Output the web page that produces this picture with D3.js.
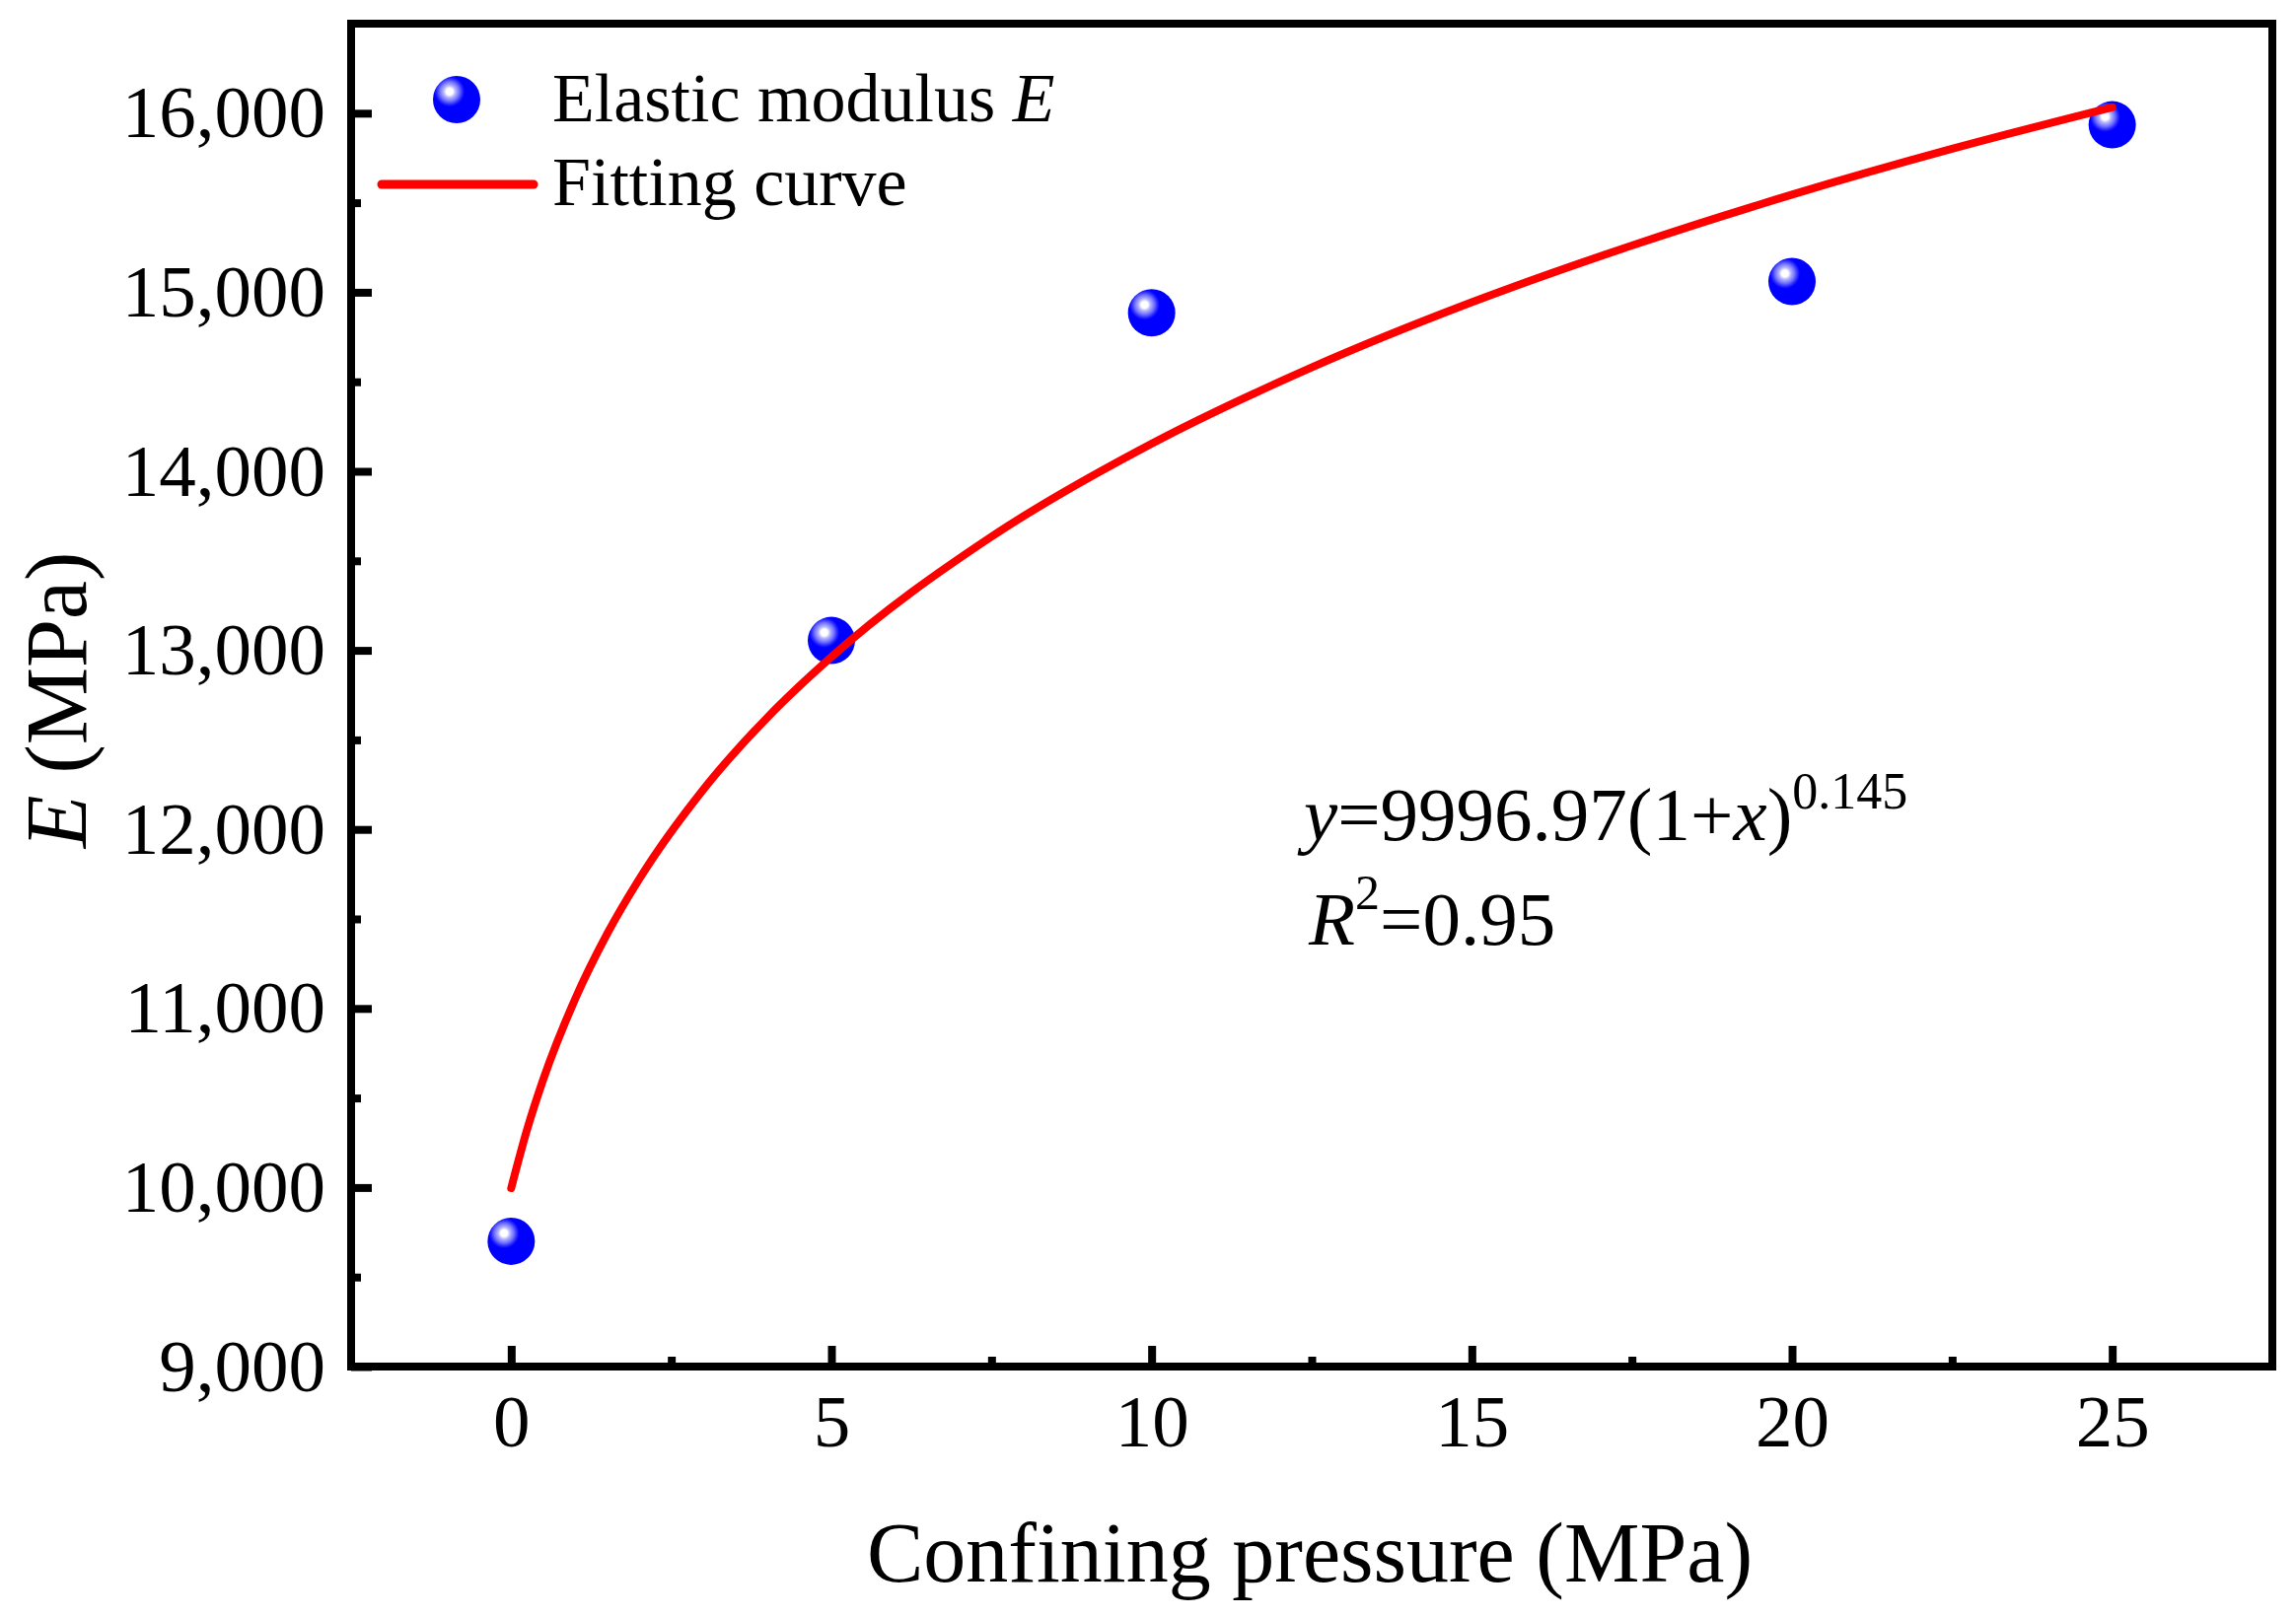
<!DOCTYPE html>
<html>
<head>
<meta charset="utf-8">
<script src="https://cdn.jsdelivr.net/npm/d3@7"></script>
<style>
  body { margin: 0; background: #fff; }
  svg text { font-family: "Liberation Serif", "Times New Roman", serif; fill: #000; }
</style>
</head>
<body>
<svg id="chart"></svg>
<script>
// measured points
const pressure = [0, 5, 10, 20, 25];
const modulus = [9700, 13055, 14885, 15060, 15935];

// fitting curve
const fitX = [0, 0.25, 0.5, 1, 1.5, 2, 3, 4, 5, 7.5, 10, 12.5, 15, 17.5, 20, 22.5, 25];
const fitY = [9997, 10326, 10603, 11054, 11418, 11723, 12223, 12625, 12963, 13635, 14154, 14580, 14944, 15261, 15545, 15801, 16033];

const xTicks = [0, 5, 10, 15, 20, 25];
const xMinor = [2.5, 7.5, 12.5, 17.5, 22.5];
const yTicks = [9000, 10000, 11000, 12000, 13000, 14000, 15000, 16000];
const yMinor = [9500, 10500, 11500, 12500, 13500, 14500, 15500];

const width = 2328;
const height = 1640;
const margin = { top: 24, left: 356, bottom: 254, right: 24 };
const iwidth = width - margin.left - margin.right;
const iheight = height - margin.top - margin.bottom;

const svg = d3.select("#chart").attr("width", width).attr("height", height);

const defs = svg.append("defs");
const grad = defs.append("radialGradient")
    .attr("id", "ball")
    .attr("cx", 0.35).attr("cy", 0.33).attr("r", 0.32)
    .attr("fx", 0.35).attr("fy", 0.33);
grad.append("stop").attr("offset", "0%").attr("stop-color", "#ffffff");
grad.append("stop").attr("offset", "22%").attr("stop-color", "#ffffff");
grad.append("stop").attr("offset", "40%").attr("stop-color", "#b4b4ff");
grad.append("stop").attr("offset", "65%").attr("stop-color", "#7070ff");
grad.append("stop").attr("offset", "85%").attr("stop-color", "#2a2aff");
grad.append("stop").attr("offset", "100%").attr("stop-color", "#0000ff");

const g = svg.append("g").attr("transform", `translate(${margin.left},${margin.top})`);

const x = d3.scaleLinear().domain([-2.5, 27.5]).range([0, iwidth]);
const y = d3.scaleLinear().domain([9000, 16500]).range([iheight, 0]);

// axes (ticks point inward)
const xAxis = g.append("g")
    .attr("transform", `translate(0,${iheight})`)
    .call(d3.axisBottom(x).tickValues(xTicks).tickSize(-21).tickPadding(28).tickFormat(d3.format("d")));
const xAxisMinor = g.append("g")
    .attr("transform", `translate(0,${iheight})`)
    .call(d3.axisBottom(x).tickValues(xMinor).tickSize(-10).tickFormat(""));
const yAxis = g.append("g")
    .call(d3.axisLeft(y).tickValues(yTicks).tickSize(-21).tickPadding(26).tickFormat(d3.format(",")));
const yAxisMinor = g.append("g")
    .call(d3.axisLeft(y).tickValues(yMinor).tickSize(-10).tickFormat(""));

[xAxis, xAxisMinor, yAxis, yAxisMinor].forEach(a => {
    a.select(".domain").remove();
    a.selectAll("line").attr("stroke", "#000").attr("stroke-width", 8);
    a.selectAll("text").style("font-size", "75px").attr("font-family", null);
});

// frame
g.append("rect")
    .attr("x", 0).attr("y", 0)
    .attr("width", iwidth).attr("height", iheight)
    .attr("fill", "none")
    .attr("stroke", "#000")
    .attr("stroke-width", 8);

// data points
g.selectAll("circle.pt")
    .data(pressure.map((p, i) => ({ p, e: modulus[i] })))
    .enter().append("circle")
    .attr("class", "pt")
    .attr("cx", d => x(d.p))
    .attr("cy", d => y(d.e))
    .attr("r", 24)
    .attr("fill", "url(#ball)");

// fitting curve
const line = d3.line()
    .x(d => x(d[0]))
    .y(d => y(d[1]))
    .curve(d3.curveMonotoneX);

g.append("path")
    .datum(fitX.map((v, i) => [v, fitY[i]]))
    .attr("d", line)
    .attr("fill", "none")
    .attr("stroke", "#ff0000")
    .attr("stroke-width", 8)
    .attr("stroke-linecap", "round");

// legend
svg.append("circle")
    .attr("cx", 463).attr("cy", 101).attr("r", 24)
    .attr("fill", "url(#ball)");
const leg1 = svg.append("text")
    .attr("x", 560).attr("y", 123)
    .style("font-size", "70px");
leg1.append("tspan").text("Elastic modulus ");
leg1.append("tspan").style("font-style", "italic").text("E");

svg.append("line")
    .attr("x1", 387).attr("x2", 541)
    .attr("y1", 187).attr("y2", 187)
    .attr("stroke", "#ff0000")
    .attr("stroke-width", 9)
    .attr("stroke-linecap", "round");
svg.append("text")
    .attr("x", 560).attr("y", 208)
    .style("font-size", "70px")
    .text("Fitting curve");

// equation
const eq1 = svg.append("text")
    .attr("x", 1322).attr("y", 852)
    .style("font-size", "77px");
eq1.append("tspan").style("font-style", "italic").text("y");
eq1.append("tspan").text("=9996.97(1+");
eq1.append("tspan").style("font-style", "italic").text("x");
eq1.append("tspan").text(")");
eq1.append("tspan").attr("dy", -32).style("font-size", "52px").text("0.145");

const eq2 = svg.append("text")
    .attr("x", 1327).attr("y", 958)
    .style("font-size", "77px");
eq2.append("tspan").style("font-style", "italic").text("R");
eq2.append("tspan").attr("dy", -36).style("font-size", "50px").text("2");
eq2.append("tspan").attr("dy", 36).text("=0.95");

// axis titles
svg.append("text")
    .attr("x", margin.left + x(12.5) - 2).attr("y", 1604)
    .attr("text-anchor", "middle")
    .style("font-size", "86px")
    .text("Confining pressure (MPa)");

const yt = svg.append("text")
    .attr("transform", "translate(87,710) rotate(-90)")
    .attr("text-anchor", "middle")
    .style("font-size", "88px");
yt.append("tspan").style("font-style", "italic").text("E");
yt.append("tspan").text(" (MPa)");
</script>
</body>
</html>
